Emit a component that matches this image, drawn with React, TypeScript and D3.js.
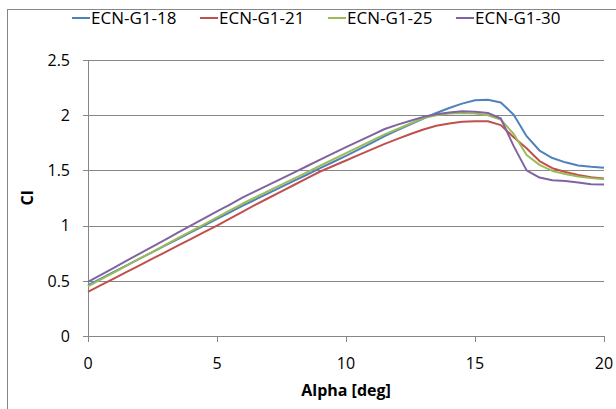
import React from 'react';
import * as d3 from 'd3';

// angle of attack, 0..20 deg in 0.5 steps
const alpha = d3.range(0, 20.01, 0.5);

const seriesNames = ['ECN-G1-18', 'ECN-G1-21', 'ECN-G1-25', 'ECN-G1-30'];
const seriesColors = ['#4F81BD', '#C0504D', '#9BBB59', '#8064A2'];

const clG18 = [
  0.46, 0.52, 0.58, 0.64, 0.70, 0.76, 0.82, 0.88, 0.94, 1.0, 1.06, 1.12, 1.18, 1.237, 1.294, 1.35,
  1.407, 1.463, 1.52, 1.576, 1.632, 1.69, 1.75, 1.81, 1.865, 1.918, 1.97, 2.02, 2.065, 2.105, 2.135,
  2.14, 2.115, 2.005, 1.81, 1.68, 1.612, 1.573, 1.545, 1.532, 1.525,
];
const clG21 = [
  0.40, 0.46, 0.52, 0.58, 0.64, 0.70, 0.76, 0.82, 0.88, 0.94, 1.0, 1.064, 1.127, 1.19, 1.25, 1.31,
  1.37, 1.43, 1.49, 1.54, 1.59, 1.64, 1.69, 1.74, 1.785, 1.83, 1.87, 1.905, 1.925, 1.94, 1.945,
  1.945, 1.91, 1.8, 1.7, 1.585, 1.52, 1.485, 1.458, 1.438, 1.427,
];
const clG25 = [
  0.45, 0.513, 0.575, 0.638, 0.70, 0.763, 0.825, 0.888, 0.95, 1.012, 1.075, 1.137, 1.2, 1.257, 1.314,
  1.371, 1.428, 1.485, 1.542, 1.599, 1.656, 1.713, 1.77, 1.826, 1.875, 1.925, 1.975, 2.0, 2.015, 2.02,
  2.015, 2.0, 1.96, 1.83, 1.64, 1.55, 1.495, 1.468, 1.445, 1.43, 1.42,
];
const clG30 = [
  0.49, 0.554, 0.618, 0.682, 0.746, 0.81, 0.874, 0.938, 1.002, 1.065, 1.128, 1.19, 1.255, 1.312, 1.369,
  1.426, 1.483, 1.54, 1.597, 1.654, 1.71, 1.765, 1.82, 1.875, 1.915, 1.95, 1.985, 2.008, 2.025, 2.036,
  2.032, 2.02, 1.97, 1.72, 1.5, 1.435, 1.41, 1.405, 1.39, 1.375, 1.373,
];

const xTicks = [0, 5, 10, 15, 20];
const yTicks = [0, 0.5, 1, 1.5, 2, 2.5];

const W = 616;
const H = 409;
const font = "'Open Sans', 'Liberation Sans', sans-serif";

export default function App() {
  const x = d3.scaleLinear().domain([0, 20]).range([88, 604]);
  const y = d3.scaleLinear().domain([0, 2.5]).range([336, 60]);

  const allSeries = [clG18, clG21, clG25, clG30];
  const line = d3
    .line<number>()
    .x((_, i) => x(alpha[i]))
    .y((d) => y(d));

  const gridColor = '#868686';

  return (
    <svg width={W} height={H} style={{ position: 'absolute', left: 0, top: 0, background: '#fff' }}>
      {/* chart area border */}
      <rect x={7.5} y={9.5} width={700} height={500} fill="#fff" stroke={gridColor} strokeWidth={1} />

      {/* horizontal gridlines */}
      {yTicks.map((t) => (
        <line key={'g' + t} x1={x(0)} x2={x(20)} y1={Math.round(y(t)) + 0.5} y2={Math.round(y(t)) + 0.5}
          stroke={gridColor} strokeWidth={1} />
      ))}
      {/* y axis */}
      <line x1={x(0) + 0.5} x2={x(0) + 0.5} y1={y(2.5)} y2={y(0)} stroke={gridColor} />
      {yTicks.map((t) => (
        <g key={'y' + t}>
          <line x1={x(0) - 5} x2={x(0)} y1={Math.round(y(t)) + 0.5} y2={Math.round(y(t)) + 0.5} stroke={gridColor} />
          <text x={70} y={y(t)} dy="0.36em" textAnchor="end" fontFamily={font} fontSize={16} fill="#000">
            {t}
          </text>
        </g>
      ))}
      {/* x axis ticks */}
      {xTicks.map((t) => (
        <g key={'x' + t}>
          <line x1={Math.round(x(t)) + 0.5} x2={Math.round(x(t)) + 0.5} y1={y(0)} y2={y(0) + 6} stroke={gridColor} />
          <text x={x(t)} y={369} textAnchor="middle" fontFamily={font} fontSize={16} fill="#000">
            {t}
          </text>
        </g>
      ))}

      {/* series */}
      {allSeries.map((s, i) => (
        <path key={seriesNames[i]} d={line(s) || ''} fill="none" stroke={seriesColors[i]} strokeWidth={2}
          strokeLinejoin="round" />
      ))}

      {/* axis titles */}
      <text x={(x(0) + x(20)) / 2} y={396} textAnchor="middle" fontFamily={font} fontSize={16} fontWeight="bold">
        Alpha [deg]
      </text>
      <text transform={`translate(33, ${(y(0) + y(2.5)) / 2}) rotate(-90)`} textAnchor="middle" fontFamily={font}
        fontSize={16} fontWeight="bold">
        Cl
      </text>

      {/* legend */}
      {seriesNames.map((name, i) => {
        const lx = 72 + i * 128;
        const ly = 18;
        return (
          <g key={'l' + name}>
            <line x1={lx} x2={lx + 18} y1={ly} y2={ly} stroke={seriesColors[i]} strokeWidth={2} />
            <text x={lx + 19} y={ly} dy="0.36em" fontFamily={font} fontSize={17} fill="#000">
              {name}
            </text>
          </g>
        );
      })}
    </svg>
  );
}
